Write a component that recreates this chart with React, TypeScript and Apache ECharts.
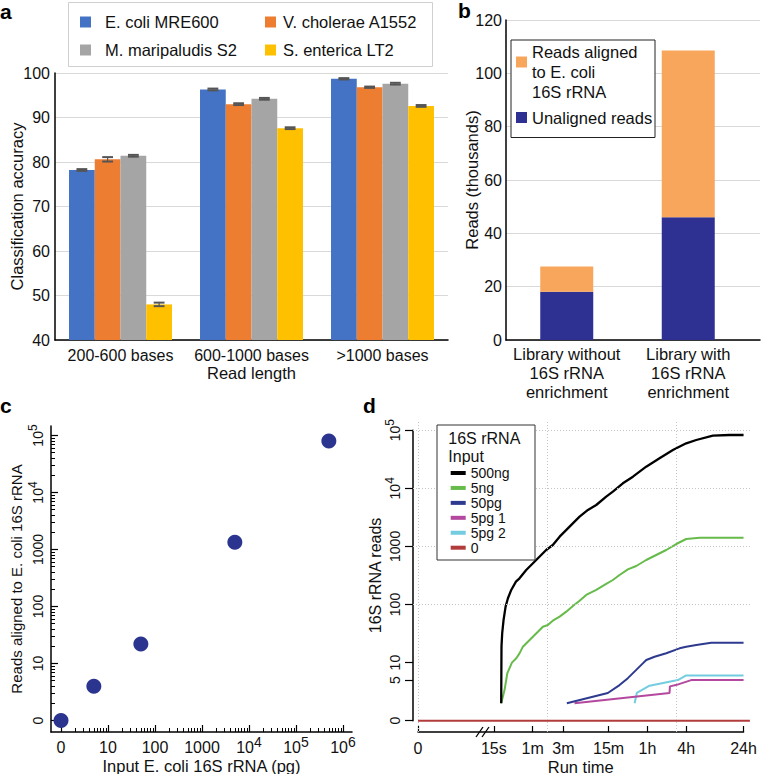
import React, { useEffect, useRef } from "react";
import * as echarts from "echarts";

// ---------------- Panel a: classification accuracy ----------------
const readLengthCats = ["200-600 bases", "600-1000 bases", ">1000 bases"];
const speciesNames = ["E. coli MRE600", "V. cholerae A1552", "M. maripaludis S2", "S. enterica LT2"];
const ecoliAccuracy = [78.2, 96.3, 98.7];
const vcholeraeAccuracy = [80.6, 93.0, 96.8];
const mmaripaludisAccuracy = [81.4, 94.2, 97.6];
const sentericaAccuracy = [48.0, 87.6, 92.6];
const ecoliError = [0.2, 0.2, 0.15];
const vcholeraeError = [0.5, 0.2, 0.15];
const mmaripaludisError = [0.2, 0.2, 0.2];
const sentericaError = [0.4, 0.2, 0.2];
const speciesColors = ["#4472C4", "#ED7D31", "#A5A5A5", "#FFC000"];

// ---------------- Panel b: reads per library ----------------
const libraryCats = ["Library without\n16S rRNA\nenrichment", "Library with\n16S rRNA\nenrichment"];
const alignedName = "Reads aligned to E. coli 16S rRNA";
const unalignedName = "Unaligned reads";
const unalignedReadsK = [18.1, 46.0];
const alignedReadsK = [9.5, 62.6];

// ---------------- Panel c: input vs aligned reads ----------------
const inputPg = [0, 5, 50, 5000, 500000];
const alignedReadsC = [0, 4, 22, 1340, 80000];
const cXTickValues = [0, 10, 100, 1000, 1e4, 1e5, 1e6];
const cXTickLabels = [["0", ""], ["10", ""], ["100", ""], ["1000", ""], ["10", "4"], ["10", "5"], ["10", "6"]];
const cYTickValues = [0, 10, 100, 1000, 1e4, 1e5];
const cYTickLabels = [["0", ""], ["10", ""], ["100", ""], ["1000", ""], ["10", "4"], ["10", "5"]];

// ---------------- Panel d: reads over run time ----------------
const runEndSec = 111500; // position of the "24h" tick / end of the traces
const runTimeTickSec = [0, 15, 60, 180, 900, 3600, 14400, runEndSec];
const runTimeTickLabels = ["0", "15s", "1m", "3m", "15m", "1h", "4h", "24h"];
const dYTickValues = [0, 5, 10, 100, 1000, 1e4, 1e5];
const dYTickLabels = [["0", ""], ["5", ""], ["10", ""], ["100", ""], ["1000", ""], ["10", "4"], ["10", "5"]];
const dSeriesNames = ["500ng", "5ng", "50pg", "5pg 1", "5pg 2", "0"];
const dSeriesColors = ["#000000", "#66BB4A", "#2E3A8F", "#B4489E", "#74CCE0", "#B23B3B"];
const d500ng = [
  [19.5, 2], [19.7, 19], [20.2, 32], [21.2, 54], [22.8, 92], [24.8, 128], [27.9, 178], [33, 247],
  [37.5, 282], [47.6, 393], [68, 583], [97, 867], [123, 1057], [157, 1470], [224, 2190], [320, 3250],
  [431, 4240], [580, 5160], [828, 7180], [1050, 8750], [1500, 12180], [2150, 15850], [3450, 23550],
  [5560, 32800], [8950, 45600], [14400, 59400], [20600, 67800], [37300, 80500], [67600, 82600], [111500, 82600],
];
const d5ng = [
  [19.5, 2], [22, 3.4], [24.2, 6.5], [28.6, 10], [33.4, 11.9], [37.5, 14.4], [42.3, 18.8], [50.5, 22.9],
  [60.4, 27.9], [72.3, 34], [86.3, 41.5], [103, 44.4], [123, 52.7], [157, 61.8], [199, 75.3], [252, 94],
  [320, 116], [405, 146], [580, 178], [828, 226], [1050, 264], [1333, 322], [1793, 403], [2420, 460],
  [3450, 583], [4930, 711], [7050, 867], [10090, 1099], [14400, 1340], [23200, 1413], [111500, 1413],
];
const d50pg = [
  [203, 2], [877, 3], [1333, 4.1], [1793, 5.4], [2420, 7.5], [3060, 9.7], [3460, 11.1], [4650, 12.6],
  [7060, 14.5], [11350, 17.6], [14400, 18.8], [20600, 20.1], [35200, 22], [111500, 22],
];
const d5pg1 = [[267, 2], [7940, 3], [8050, 3.9], [9950, 4.1], [17200, 5], [111500, 5]];
const d5pg2 = [[2280, 2], [2470, 3], [3890, 4], [10700, 5], [14400, 6], [111500, 6]];
const d0 = [[0, 0], [140000, 0]];
const dGridX = [0, 100, 1e4];
const dGridY = [100, 1000, 1e4, 1e5];

// ---------------- style / layout ----------------
const FONT = "'Liberation Sans', Arial, Helvetica, sans-serif";
const INK = "#111111";
const GRID_GREY = "#d9d9d9";
const A_GAP = 0.214;
const LOG_ZERO = 1; // these log axes draw "0" where 1 would sit
const toLog = (v: number) => (v > 0 ? v : LOG_ZERO);
const lg = (v: number) => Math.log10(toLog(v));

// panel c geometry (px)
const C_LEFT = 51, C_RIGHT = 352, C_TOP = 426, C_BOTTOM = 732;
const C_X_ONE = 61, C_X_DEC = 47, C_Y_ONE = 720.5, C_Y_DEC = 57;
const cXMin = (C_LEFT - C_X_ONE) / C_X_DEC, cXMax = (C_RIGHT - C_X_ONE) / C_X_DEC;
const cYMin = (C_Y_ONE - C_BOTTOM) / C_Y_DEC, cYMax = (C_Y_ONE - C_TOP) / C_Y_DEC;

// panel d geometry (px)
const D_LEFT = 413, D_RIGHT = 752, D_TOP = 422, D_BOTTOM = 732;
const D_X_ONE = 418, D_X_DEC = 64.5, D_Y_ONE = 720.7, D_Y_DEC = 58.1;
const dXMin = (D_LEFT - D_X_ONE) / D_X_DEC, dXMax = (D_RIGHT - D_X_ONE) / D_X_DEC;
const dYMin = (D_Y_ONE - D_BOTTOM) / D_Y_DEC, dYMax = (D_Y_ONE - D_TOP) / D_Y_DEC;
const dAxisXMax = Math.log10(runEndSec);
const dAxisYMax = Math.log10(1e5);

function minorLogTicks(maxDecade: number) {
  const out: number[] = [];
  for (let d = 0; d < maxDecade; d++) for (let k = 2; k <= 9; k++) out.push(Math.log10(k * Math.pow(10, d)));
  return out;
}

function supFormatter(ticks: number[], labels: string[][]) {
  return (value: number) => {
    let best = 0;
    for (let i = 0; i < ticks.length; i++) if (Math.abs(ticks[i] - value) < Math.abs(ticks[best] - value)) best = i;
    const [b, s] = labels[best];
    return s ? `{b|${b}}{s|${s}}` : `{b|${b}}`;
  };
}

function richStyle(base: number, sup: number, raise: number, lineH: number) {
  return {
    b: { fontSize: base, fontFamily: FONT, color: INK, lineHeight: lineH },
    s: { fontSize: sup, fontFamily: FONT, color: INK, lineHeight: lineH, padding: [0, 0, raise * 2, 0] },
  };
}

const nameStyle = (size = 16.5) => ({ fontSize: size, fontFamily: FONT, color: INK });
const blackLine = { color: "#000", width: 1.5 };
const panelLabel = (t: string, x: number, y: number) => ({
  type: "text", x, y, z: 70,
  style: { text: t, fontSize: 21, fontWeight: "bold", fontFamily: FONT, fill: "#000", verticalAlign: "top" },
});

function buildOption() {
  const cXMajor = cXTickValues.map(lg);
  const cYMajor = cYTickValues.map(lg);
  const dXTicks = runTimeTickSec.map(lg);
  const dYTicks = dYTickValues.map(lg);

  const errorSeries = (k: number, values: number[], errs: number[]) => ({
    type: "custom",
    xAxisIndex: 0,
    yAxisIndex: 0,
    z: 5,
    silent: true,
    encode: { x: 0, y: 1 },
    data: values.map((v, i) => [i, v, errs[i]]),
    renderItem: (_p: any, api: any) => {
      const ci = api.value(0), v = api.value(1), e = api.value(2);
      const band = api.size([1, 0])[0];
      const bw = (band * (1 - A_GAP)) / 4;
      const cx = api.coord([ci, v])[0] + (k - 1.5) * bw;
      const yTop = api.coord([ci, v + e])[1];
      const yBot = api.coord([ci, v - e])[1];
      const half = bw * 0.21;
      const st = { stroke: "#555", lineWidth: 2 };
      return {
        type: "group",
        children: [
          { type: "line", shape: { x1: cx, y1: yTop, x2: cx, y2: yBot }, style: { stroke: "#555", lineWidth: 1.2 } },
          { type: "line", shape: { x1: cx - half, y1: yTop, x2: cx + half, y2: yTop }, style: st },
          { type: "line", shape: { x1: cx - half, y1: yBot, x2: cx + half, y2: yBot }, style: st },
        ],
      };
    },
  });

  const accuracy = [ecoliAccuracy, vcholeraeAccuracy, mmaripaludisAccuracy, sentericaAccuracy];
  const errors = [ecoliError, vcholeraeError, mmaripaludisError, sentericaError];
  const dData = [d500ng, d5ng, d50pg, d5pg1, d5pg2, d0];

  const gridBase = { containLabel: false, outerBoundsMode: "none" };

  return {
    animation: false,
    backgroundColor: "#ffffff",
    textStyle: { fontFamily: FONT },
    grid: [
      { ...gridBase, left: 55, top: 73, width: 393, height: 267 }, // a
      { ...gridBase, left: 506, top: 20, width: 254, height: 320 }, // b frame
      { ...gridBase, left: 506, top: 20, width: 243, height: 320 }, // b bars
      { ...gridBase, left: C_LEFT, top: C_TOP, width: C_RIGHT - C_LEFT, height: C_BOTTOM - C_TOP }, // c
      { ...gridBase, left: D_LEFT, top: D_TOP, width: D_RIGHT - D_LEFT, height: D_BOTTOM - D_TOP }, // d data
      {
        ...gridBase,
        left: D_X_ONE,
        top: D_Y_ONE - dAxisYMax * D_Y_DEC,
        width: dAxisXMax * D_X_DEC,
        height: dAxisYMax * D_Y_DEC,
      }, // d axes
    ],
    xAxis: [
      {
        gridIndex: 0, type: "category", data: readLengthCats, position: "bottom",
        axisLine: { show: true, onZero: false, lineStyle: blackLine },
        axisTick: { show: false },
        axisLabel: { fontSize: 16, color: INK, fontFamily: FONT, margin: 7, interval: 0, hideOverlap: false },
        name: "Read length", nameLocation: "middle", nameGap: 24, nameMoveOverlap: false,
        nameTextStyle: nameStyle(),
      },
      {
        gridIndex: 1, type: "value", min: 0, max: 1, position: "bottom",
        axisLine: { show: true, onZero: false, lineStyle: blackLine },
        axisTick: { show: false }, axisLabel: { show: false }, splitLine: { show: false },
      },
      {
        gridIndex: 2, type: "category", data: libraryCats, position: "bottom",
        axisLine: { show: false, onZero: false }, axisTick: { show: false },
        axisLabel: { fontSize: 16.5, lineHeight: 19, color: INK, fontFamily: FONT, margin: 4, interval: 0 },
      },
      {
        gridIndex: 3, type: "log", logBase: 10, min: Math.pow(10, cXMin), max: Math.pow(10, cXMax),
        position: "bottom", show: false,
      },
      {
        gridIndex: 3, type: "value", min: cXMin, max: cXMax, position: "bottom",
        axisLine: { show: true, onZero: false, lineStyle: blackLine },
        axisTick: { show: true, inside: true, length: 7, customValues: cXMajor, lineStyle: { color: "#000", width: 1.2 } },
        axisLabel: {
          customValues: cXMajor, formatter: supFormatter(cXMajor, cXTickLabels),
          rich: richStyle(16, 14, 5.5, 24), margin: 3, showMinLabel: true, showMaxLabel: true,
        },
        splitLine: { show: false },
        name: "Input E. coli 16S rRNA (pg)", nameLocation: "middle", nameGap: 25, nameMoveOverlap: false,
        nameTextStyle: nameStyle(),
      },
      {
        gridIndex: 3, type: "value", min: cXMin, max: cXMax, position: "bottom",
        axisLine: { show: false, onZero: false },
        axisTick: { show: true, inside: true, length: 4, customValues: minorLogTicks(6), lineStyle: { color: "#000", width: 1 } },
        axisLabel: { show: false }, splitLine: { show: false },
      },
      {
        gridIndex: 4, type: "log", logBase: 10, min: Math.pow(10, dXMin), max: Math.pow(10, dXMax),
        position: "bottom", show: false,
      },
      {
        gridIndex: 5, type: "value", min: 0, max: dAxisXMax, position: "bottom", offset: D_BOTTOM - D_Y_ONE,
        axisLine: { show: true, onZero: false, lineStyle: blackLine },
        axisTick: { show: true, inside: true, length: 6, customValues: dXTicks, lineStyle: { color: "#000", width: 1.2 } },
        axisLabel: {
          customValues: dXTicks,
          formatter: (v: number) => {
            let best = 0;
            for (let i = 0; i < dXTicks.length; i++) if (Math.abs(dXTicks[i] - v) < Math.abs(dXTicks[best] - v)) best = i;
            return runTimeTickLabels[best];
          },
          fontSize: 16, color: INK, fontFamily: FONT, margin: 8, showMinLabel: true, showMaxLabel: true,
        },
        splitLine: { show: false },
        name: "Run time", nameLocation: "middle", nameGap: 26, nameMoveOverlap: false, nameTextStyle: nameStyle(),
      },
    ],
    yAxis: [
      {
        gridIndex: 0, type: "value", min: 40, max: 100, interval: 10, position: "left",
        axisLine: { show: true, onZero: false, lineStyle: blackLine },
        axisTick: { show: false },
        axisLabel: { fontSize: 16, color: INK, fontFamily: FONT, margin: 5 },
        splitLine: { show: true, lineStyle: { color: GRID_GREY, width: 1 } },
        name: "Classification accuracy", nameLocation: "middle", nameGap: 30, nameMoveOverlap: false,
        nameTextStyle: nameStyle(),
      },
      {
        gridIndex: 1, type: "value", min: 0, max: 120, interval: 20, position: "left",
        axisLine: { show: true, onZero: false, lineStyle: blackLine },
        axisTick: { show: false },
        axisLabel: { fontSize: 16, color: INK, fontFamily: FONT, margin: 4 },
        splitLine: { show: true, lineStyle: { color: GRID_GREY, width: 1 } },
        name: "Reads (thousands)", nameLocation: "middle", nameGap: 26, nameMoveOverlap: false,
        nameTextStyle: nameStyle(),
      },
      { gridIndex: 2, type: "value", min: 0, max: 120, show: false },
      {
        gridIndex: 3, type: "log", logBase: 10, min: Math.pow(10, cYMin), max: Math.pow(10, cYMax),
        position: "left", show: false,
      },
      {
        gridIndex: 3, type: "value", min: cYMin, max: cYMax, position: "left",
        axisLine: { show: true, onZero: false, lineStyle: blackLine },
        axisTick: { show: true, inside: true, length: 7, customValues: cYMajor, lineStyle: { color: "#000", width: 1.2 } },
        axisLabel: {
          customValues: cYMajor, formatter: supFormatter(cYMajor, cYTickLabels), rotate: 90,
          rich: richStyle(14, 12, 5, 22), margin: 2, showMinLabel: true, showMaxLabel: true,
        },
        splitLine: { show: false },
        name: "Reads aligned to E. coli 16S rRNA", nameLocation: "middle", nameGap: 27, nameMoveOverlap: false,
        nameTextStyle: nameStyle(15),
      },
      {
        gridIndex: 3, type: "value", min: cYMin, max: cYMax, position: "left",
        axisLine: { show: false, onZero: false },
        axisTick: { show: true, inside: true, length: 4, customValues: minorLogTicks(5), lineStyle: { color: "#000", width: 1 } },
        axisLabel: { show: false }, splitLine: { show: false },
      },
      {
        gridIndex: 4, type: "log", logBase: 10, min: Math.pow(10, dYMin), max: Math.pow(10, dYMax),
        position: "left", show: false,
      },
      {
        gridIndex: 5, type: "value", min: 0, max: dAxisYMax, position: "left", offset: D_X_ONE - D_LEFT,
        axisLine: { show: true, onZero: false, lineStyle: blackLine },
        axisTick: { show: true, inside: false, length: 8, customValues: dYTicks, lineStyle: { color: "#000", width: 1.2 } },
        axisLabel: {
          customValues: dYTicks, formatter: supFormatter(dYTicks, dYTickLabels), rotate: 90,
          rich: richStyle(14, 12, 5, 22), margin: 7, showMinLabel: true, showMaxLabel: true,
        },
        splitLine: { show: false },
        name: "16S rRNA reads", nameLocation: "middle", nameGap: 30, nameMoveOverlap: false,
        nameTextStyle: nameStyle(16),
      },
    ],
    legend: [
      {
        z: 60, data: [speciesNames[0], speciesNames[2]], orient: "vertical", left: 80, top: 12, padding: 0,
        itemWidth: 11, itemHeight: 11, itemGap: 8, icon: "rect", selectedMode: false,
        textStyle: { fontSize: 16.5, fontFamily: FONT, color: INK, lineHeight: 20, padding: [0, 0, 0, 9] },
      },
      {
        z: 60, data: [speciesNames[1], speciesNames[3]], orient: "vertical", left: 265, top: 12, padding: 0,
        itemWidth: 11, itemHeight: 11, itemGap: 8, icon: "rect", selectedMode: false,
        textStyle: { fontSize: 16.5, fontFamily: FONT, color: INK, lineHeight: 20, padding: [0, 0, 0, 2] },
      },
      {
        z: 60,
        data: [alignedName, unalignedName],
        orient: "vertical", left: 516, top: 22, padding: 0,
        itemWidth: 11, itemHeight: 11, itemGap: 5.5, icon: "rect", selectedMode: false,
        formatter: (n: string) => (n === alignedName ? " \nReads aligned\nto E. coli\n16S rRNA" : n),
        textStyle: { fontSize: 16.5, fontFamily: FONT, color: INK, lineHeight: 20 },
      },
      {
        z: 60, data: dSeriesNames, orient: "vertical", left: 450.7, top: 466, padding: 0,
        itemWidth: 15, itemHeight: 4, itemGap: 0.94, icon: "rect", selectedMode: false,
        textStyle: { fontSize: 14, fontFamily: FONT, color: INK, lineHeight: 14 },
      },
    ],
    series: [
      ...accuracy.map((vals, k) => ({
        name: speciesNames[k], type: "bar", xAxisIndex: 0, yAxisIndex: 0, data: vals,
        barGap: "0%", barCategoryGap: `${A_GAP * 100}%`, itemStyle: { color: speciesColors[k] },
      })),
      ...accuracy.map((vals, k) => errorSeries(k, vals, errors[k])),
      {
        name: unalignedName, type: "bar", stack: "reads", xAxisIndex: 2, yAxisIndex: 2, barWidth: 53,
        data: unalignedReadsK, itemStyle: { color: "#2E3192" },
      },
      {
        name: alignedName, type: "bar", stack: "reads", xAxisIndex: 2, yAxisIndex: 2, barWidth: 53,
        data: alignedReadsK, itemStyle: { color: "#F8A65B" },
      },
      {
        name: "Input vs aligned reads", type: "scatter", xAxisIndex: 3, yAxisIndex: 3, symbolSize: 15,
        itemStyle: { color: "#2B3590", opacity: 1 },
        data: inputPg.map((x, i) => [toLog(x), toLog(alignedReadsC[i])]),
      },
      {
        type: "line", xAxisIndex: 6, yAxisIndex: 6, data: [], z: 1, silent: true,
        markLine: {
          silent: true, symbol: ["none", "none"], label: { show: false },
          lineStyle: { type: [1, 2], color: "#c4c4c4", width: 1 },
          data: [...dGridX.map((x) => ({ xAxis: toLog(x) })), ...dGridY.map((y) => ({ yAxis: toLog(y) }))],
        },
      },
      ...[5, 4, 3, 2, 1, 0].map((k) => ({
        name: dSeriesNames[k], type: "line", xAxisIndex: 6, yAxisIndex: 6, z: 3,
        showSymbol: false, symbol: "none",
        lineStyle: { color: dSeriesColors[k], width: k === 0 ? 2.3 : 2 },
        itemStyle: { color: dSeriesColors[k] },
        data: dData[k].map(([t, r]) => [toLog(t), toLog(r)]),
      })),
    ],
    graphic: [
      panelLabel("a", 0, 1),
      panelLabel("b", 458, 0),
      panelLabel("c", 0, 395),
      panelLabel("d", 363, 395),
      { type: "rect", z: 50, shape: { x: 68.5, y: 2.5, width: 364, height: 64 }, style: { fill: "#fff", stroke: "#cfcfcf", lineWidth: 1 } },
      { type: "rect", z: 50, shape: { x: 511, y: 40, width: 144, height: 97.5 }, style: { fill: "#fff", stroke: "#222", lineWidth: 1 } },
      { type: "rect", z: 50, shape: { x: 437, y: 425, width: 98, height: 135 }, style: { fill: "#fff", stroke: "#333", lineWidth: 1 } },
      { type: "text", x: 448.3, y: 438, z: 61, style: { text: "16S rRNA", fontSize: 16, fontFamily: FONT, fill: INK, verticalAlign: "middle" } },
      { type: "text", x: 448.3, y: 456.2, z: 61, style: { text: "Input", fontSize: 16, fontFamily: FONT, fill: INK, verticalAlign: "middle" } },
      { type: "line", z: 61, shape: { x1: 476, y1: 737, x2: 483, y2: 727 }, style: { stroke: "#000", lineWidth: 1.3 } },
      { type: "line", z: 61, shape: { x1: 482, y1: 737, x2: 489, y2: 727 }, style: { stroke: "#000", lineWidth: 1.3 } },
    ],
  };
}

export default function App() {
  const ref = useRef<HTMLDivElement>(null);
  useEffect(() => {
    if (!ref.current) return;
    const chart = echarts.init(ref.current, null, { renderer: "svg", width: 761, height: 774 });
    chart.setOption(buildOption() as any);
    return () => chart.dispose();
  }, []);
  return (
    <div
      ref={ref}
      style={{ position: "fixed", left: 0, top: 0, width: 761, height: 774, background: "#fff" }}
    />
  );
}
